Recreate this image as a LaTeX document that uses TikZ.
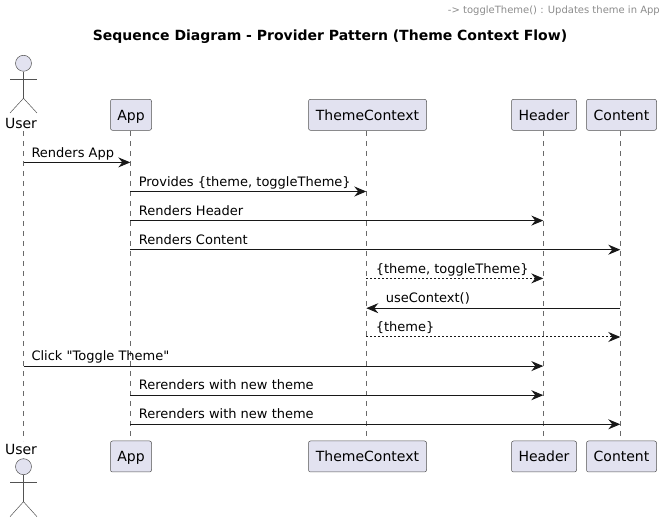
\documentclass[tikz,border=0pt]{standalone}
\usepackage{fontspec}
\setmainfont{DejaVu Sans}[Ligatures=TeXOff]
\usetikzlibrary{arrows.meta}
\definecolor{partfill}{HTML}{E2E2F0}
\definecolor{partline}{HTML}{181818}
\tikzset{
  part/.style={draw=partline!75,fill=partfill,rounded corners=2pt,line width=.5pt,minimum height=31pt,inner sep=0pt,text height=11pt,text depth=0pt,font=\fontsize{14}{16}\selectfont},
  actorname/.style={anchor=base,inner sep=0pt,font=\fontsize{14}{16}\selectfont},
  actorhead/.style={circle,draw=partline!75,fill=partfill,line width=.5pt,minimum size=16pt,inner sep=0pt},
  actorbody/.style={draw=partline!75,line width=.5pt},
  lifeline/.style={draw=partline!65,line width=.5pt,dash pattern=on 5pt off 5pt},
  msg/.style={draw=partline,line width=1pt,-{Stealth[length=12pt,width=10pt,inset=4pt]}},
  reply/.style={msg,dash pattern=on 2pt off 2pt},
  msgtext/.style={anchor=base west,inner sep=0pt,yshift=5.3pt,font=\fontsize{13}{15}\selectfont}
}
\begin{document}
\begin{tikzpicture}[x=1pt,y=1pt]
  \useasboundingbox (0,0) rectangle (667,522);
  \node[anchor=base east,inner sep=0pt,text=gray!90,font=\fontsize{10}{12}\selectfont] (note) at (660,508.5) {-> toggleTheme() : Updates theme in App};
  \node[inner sep=0pt,font=\fontsize{14}{16}\selectfont\bfseries] (title) at (330,485) {Sequence Diagram - Provider Pattern (Theme Context Flow)};
  % lifeline ends
  \coordinate (userstart) at (23.5,391);
  \coordinate (userend) at (23.5,81);
  \coordinate (appstart) at (130.3,391);
  \coordinate (append) at (130.3,81);
  \coordinate (themestart) at (366.3,391);
  \coordinate (themeend) at (366.3,81);
  \coordinate (headerstart) at (543.3,391);
  \coordinate (headerend) at (543.3,81);
  \coordinate (contentstart) at (620.3,391);
  \coordinate (contentend) at (620.3,81);
  % lifelines
  \draw[lifeline] (userstart) -- (userend);
  \draw[lifeline] (appstart) -- (append);
  \draw[lifeline] (themestart) -- (themeend);
  \draw[lifeline] (headerstart) -- (headerend);
  \draw[lifeline] (contentstart) -- (contentend);
  % top and bottom boxes
  \draw
    (131,407.2) node[part,minimum width=41pt] (apptop){App}
    (367.5,407.2) node[part,minimum width=118pt] (themetop){ThemeContext}
    (544,407.2) node[part,minimum width=65pt] (headertop){Header}
    (621.5,407.2) node[part,minimum width=70pt] (contenttop){Content}
    (131,65.5) node[part,minimum width=41pt] (appbot){App}
    (367.5,65.5) node[part,minimum width=118pt] (themebot){ThemeContext}
    (544,65.5) node[part,minimum width=65pt] (headerbot){Header}
    (621.5,65.5) node[part,minimum width=70pt] (contentbot){Content};
  % actors
  \node[actorhead] (headtop) at (23.5,458.7) {};
  \node[actorname] (usertop) at (21,393.7) {User};
  \node[actorhead] (headbot) at (23.5,55.3) {};
  \node[actorname] (userbot) at (21,67) {User};
  \coordinate (hiptop) at (23.5,423.7);
  \coordinate (armltop) at (10,442.7);
  \coordinate (armrtop) at (37,442.7);
  \coordinate (legltop) at (10,409);
  \coordinate (legrtop) at (37,409);
  \coordinate (hipbot) at (23.5,20.3);
  \coordinate (armlbot) at (10,39.7);
  \coordinate (armrbot) at (37,39.7);
  \coordinate (leglbot) at (10,5.3);
  \coordinate (legrbot) at (37,5.3);
  \draw[actorbody] (headtop) -- (hiptop);
  \draw[actorbody] (armltop) -- (armrtop);
  \draw[actorbody] (legltop) -- (hiptop) -- (legrtop);
  \draw[actorbody] (headbot) -- (hipbot);
  \draw[actorbody] (armlbot) -- (armrbot);
  \draw[actorbody] (leglbot) -- (hipbot) -- (legrbot);
  \foreach \r/\ypos in {1/359.6,2/330.5,3/301.4,4/272.3,5/243.6,6/213.8,7/185,8/155.9,9/126.8,10/97.7} {
    \coordinate (user\r) at (23.5,\ypos);
    \coordinate (app\r) at (130.3,\ypos);
    \coordinate (theme\r) at (366.3,\ypos);
    \coordinate (header\r) at (543.3,\ypos);
    \coordinate (content\r) at (620.3,\ypos);
  }
  % messages
  \draw[msg] (user1) -- node[msgtext,pos=0,xshift=7.5pt] (m1){Renders App} (app1);
  \draw[msg] (app2) -- node[msgtext,pos=0,xshift=8pt] (m2){Provides \{theme, toggleTheme\}} (theme2);
  \draw[msg] (app3) -- node[msgtext,pos=0,xshift=8pt] (m3){Renders Header} (header3);
  \draw[msg] (app4) -- node[msgtext,pos=0,xshift=8pt] (m4){Renders Content} (content4);
  \draw[reply] (theme5) -- node[msgtext,pos=0,xshift=9pt] (m5){\{theme, toggleTheme\}} (header5);
  \draw[msg] (content6) -- node[msgtext,pos=1,xshift=19pt] (m6){useContext()} (theme6);
  \draw[reply] (theme7) -- node[msgtext,pos=0,xshift=9pt] (m7){\{theme\}} (content7);
  \draw[msg] (user8) -- node[msgtext,pos=0,xshift=7.5pt] (m8){Click "Toggle Theme"} (header8);
  \draw[msg] (app9) -- node[msgtext,pos=0,xshift=8pt] (m9){Rerenders with new theme} (header9);
  \draw[msg] (app10) -- node[msgtext,pos=0,xshift=8pt] (m10){Rerenders with new theme} (content10);
\end{tikzpicture}
\end{document}
